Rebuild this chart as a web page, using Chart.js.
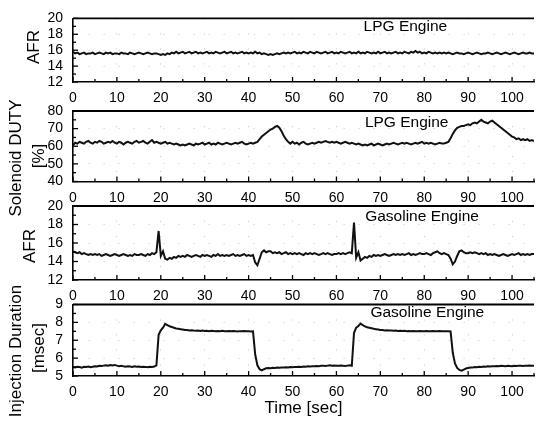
<!DOCTYPE html>
<html><head><meta charset="utf-8">
<script src="https://cdn.jsdelivr.net/npm/chart.js@4"></script>
<style>
html,body{margin:0;padding:0;background:#fff;overflow:hidden;width:539px;height:426px;}
#wrap{position:relative;width:539px;height:426px;overflow:hidden;background:#fff;}
canvas{position:absolute;left:0;top:0;}
.yt{position:absolute;font-family:'Liberation Sans',Arial,sans-serif;font-size:17px;color:#000;white-space:nowrap;transform:translate(-50%,-50%) rotate(-90deg);line-height:1;}
</style></head>
<body><div id="wrap">
<canvas id="c1" width="542" height="426"></canvas>
<canvas id="c2" width="542" height="426"></canvas>
<canvas id="c3" width="542" height="426"></canvas>
<canvas id="c4" width="542" height="426"></canvas>
<div class="yt" style="left:33px;top:47px;">AFR</div>
<div class="yt" style="left:15px;top:158px;">Solenoid DUTY</div>
<div class="yt" style="left:38px;top:156px;">[%]</div>
<div class="yt" style="left:29px;top:246px;">AFR</div>
<div class="yt" style="left:15px;top:351px;">Injection Duration</div>
<div class="yt" style="left:38px;top:348px;">[msec]</div>
</div>
<script>
// ---- data ----
const TIME = [
0,0.5,1,1.5,2,2.5,3,3.5,4,4.5,
5,5.5,6,6.5,7,7.5,8,8.5,9,9.5,
10,10.5,11,11.5,12,12.5,13,13.5,14,14.5,
15,15.5,16,16.5,17,17.5,18,18.5,19,19.5,
20,20.5,21,21.5,22,22.5,23,23.5,24,24.5,
25,25.5,26,26.5,27,27.5,28,28.5,29,29.5,
30,30.5,31,31.5,32,32.5,33,33.5,34,34.5,
35,35.5,36,36.5,37,37.5,38,38.5,39,39.5,
40,40.5,41,41.5,42,42.5,43,43.5,44,44.5,
45,45.5,46,46.5,47,47.5,48,48.5,49,49.5,
50,50.5,51,51.5,52,52.5,53,53.5,54,54.5,
55,55.5,56,56.5,57,57.5,58,58.5,59,59.5,
60,60.5,61,61.5,62,62.5,63,63.5,64,64.5,
65,65.5,66,66.5,67,67.5,68,68.5,69,69.5,
70,70.5,71,71.5,72,72.5,73,73.5,74,74.5,
75,75.5,76,76.5,77,77.5,78,78.5,79,79.5,
80,80.5,81,81.5,82,82.5,83,83.5,84,84.5,
85,85.5,86,86.5,87,87.5,88,88.5,89,89.5,
90,90.5,91,91.5,92,92.5,93,93.5,94,94.5,
95,95.5,96,96.5,97,97.5,98,98.5,99,99.5,
100,100.5,101,101.5,102,102.5,103,103.5,104,104.5,
105];

const lpgAfr = [
15.8,15.6,15.7,15.5,15.6,15.7,15.5,15.6,15.6,15.7,
15.5,15.6,15.7,15.6,15.5,15.7,15.6,15.7,15.5,15.6,
15.6,15.5,15.7,15.6,15.6,15.5,15.7,15.6,15.5,15.6,
15.7,15.6,15.5,15.6,15.7,15.6,15.5,15.6,15.6,15.5,
15.4,15.5,15.4,15.6,15.5,15.7,15.6,15.8,15.6,15.7,
15.8,15.6,15.7,15.8,15.6,15.7,15.8,15.6,15.7,15.6,
15.7,15.8,15.6,15.7,15.6,15.8,15.7,15.6,15.7,15.8,
15.6,15.7,15.8,15.6,15.7,15.6,15.7,15.8,15.6,15.7,
15.6,15.7,15.6,15.8,15.6,15.7,15.5,15.6,15.5,15.4,
15.5,15.4,15.5,15.6,15.5,15.6,15.7,15.6,15.7,15.6,
15.7,15.8,15.6,15.7,15.6,15.8,15.7,15.6,15.8,15.7,
15.6,15.8,15.7,15.6,15.7,15.8,15.6,15.7,15.8,15.6,
15.7,15.6,15.8,15.7,15.6,15.7,15.8,15.6,15.7,15.6,
15.8,15.6,15.7,15.6,15.8,15.7,15.6,15.7,15.6,15.8,
15.6,15.7,15.8,15.6,15.7,15.6,15.7,15.8,15.6,15.7,
15.6,15.8,15.7,15.6,15.8,15.7,15.9,15.7,15.8,15.6,
15.7,15.6,15.8,15.7,15.6,15.7,15.6,15.7,15.6,15.7,
15.6,15.7,15.6,15.5,15.6,15.7,15.6,15.6,15.5,15.6,
15.7,15.6,15.5,15.6,15.7,15.6,15.5,15.6,15.6,15.7,
15.6,15.5,15.6,15.7,15.6,15.5,15.6,15.7,15.6,15.5,
15.6,15.7,15.6,15.5,15.6,15.7,15.6,15.6,15.7,15.6,
15.6];

const lpgDuty = [
60.5,62.0,61.5,62.5,62.0,61.5,62.5,63.0,62.0,61.5,
62.5,62.0,63.0,62.5,61.5,62.0,62.5,62.0,63.0,62.0,
61.5,62.5,62.0,61.0,62.0,62.5,62.0,61.5,62.5,63.0,
62.0,62.5,63.0,62.0,61.5,62.5,63.5,62.0,62.5,62.0,
61.5,62.0,62.5,61.5,62.0,61.5,61.0,61.5,61.0,60.5,
61.0,60.5,61.0,61.5,61.0,60.5,61.5,61.0,61.5,62.0,
61.0,61.5,62.0,61.0,61.5,61.0,62.0,61.5,61.0,61.5,
62.0,61.5,61.0,61.5,62.0,61.5,62.0,62.5,61.5,61.0,
61.5,62.0,61.5,62.0,62.5,64.0,65.5,66.5,67.5,68.5,
69.5,70.0,71.0,71.5,70.5,68.5,66.0,64.0,62.5,61.5,
62.5,61.5,62.0,61.0,62.0,62.5,61.5,61.0,61.5,62.0,
61.5,62.0,62.5,62.0,62.5,63.0,62.5,62.0,62.5,62.0,
62.5,62.0,61.5,62.0,62.5,62.0,61.5,62.0,61.5,61.0,
61.5,61.0,60.5,61.0,60.5,61.0,61.5,60.5,61.0,61.5,
61.0,60.5,61.0,61.5,61.0,61.5,62.0,61.5,61.0,61.5,
62.0,61.5,62.0,61.5,61.0,61.5,62.0,61.5,62.0,62.5,
61.5,62.0,61.5,62.0,61.5,61.0,61.5,62.0,61.5,61.5,
62.0,62.5,64.5,67.0,69.0,70.5,71.0,71.5,71.5,72.0,
72.5,72.0,73.0,73.5,73.0,74.0,75.0,74.0,73.5,73.0,
74.0,74.5,73.5,72.5,71.5,70.5,69.5,68.5,67.5,66.5,
65.5,65.0,64.0,64.5,63.5,64.0,63.5,64.0,63.0,63.5,
63.0];

const gasAfr = [
15.1,15.0,14.9,15.0,14.8,14.9,14.8,14.7,14.8,14.7,
14.8,14.7,14.8,14.6,14.7,14.8,14.7,14.6,14.7,14.8,
14.7,14.6,14.7,14.8,14.7,14.6,14.7,14.6,14.8,14.7,
14.7,14.8,14.7,14.6,14.8,14.7,14.9,14.8,15.0,17.3,
14.6,15.1,14.3,14.2,14.4,14.3,14.5,14.4,14.6,14.5,
14.6,14.5,14.7,14.6,14.5,14.6,14.7,14.6,14.5,14.7,
14.6,14.7,14.6,14.5,14.7,14.6,14.8,14.6,14.7,14.6,
14.7,14.6,14.7,14.8,14.6,14.7,14.6,14.7,14.8,14.6,
14.7,14.6,14.7,13.9,13.6,14.3,15.0,15.2,15.0,15.1,
15.1,14.9,15.0,14.9,15.0,14.8,14.9,15.0,14.8,14.9,
14.8,14.9,14.8,14.9,14.8,14.7,14.9,14.8,14.9,14.8,
14.9,14.8,14.7,14.8,14.9,14.8,14.9,14.8,14.7,14.8,
14.8,14.9,14.8,14.9,14.8,14.9,15.0,14.9,18.2,14.4,
15.0,14.1,14.3,14.5,14.4,14.6,14.5,14.7,14.6,14.7,
14.6,14.7,14.8,14.7,14.6,14.7,14.8,14.7,14.8,14.7,
14.8,14.7,14.8,14.9,14.7,14.8,14.7,14.8,14.9,14.8,
14.8,14.9,14.8,14.7,14.9,15.0,15.1,14.9,14.8,14.9,
14.8,14.7,14.3,13.7,14.0,14.6,15.1,15.2,15.0,14.9,
14.9,15.0,14.9,15.0,14.9,14.8,14.9,14.8,14.9,14.7,
14.8,14.7,14.8,14.7,14.6,14.7,14.8,14.7,14.6,14.7,
14.8,14.7,14.8,14.9,14.7,14.8,14.7,14.8,14.7,14.8,
14.8];

const gasInj = [
5.50,5.48,5.52,5.50,5.47,5.51,5.50,5.53,5.49,5.52,
5.55,5.53,5.57,5.56,5.58,5.60,5.57,5.61,5.59,5.62,
5.58,5.55,5.57,5.54,5.52,5.55,5.53,5.51,5.54,5.52,
5.53,5.50,5.52,5.51,5.49,5.52,5.50,5.53,5.60,7.30,
7.55,7.70,7.92,7.85,7.78,7.74,7.70,7.66,7.64,7.62,
7.60,7.58,7.57,7.55,7.56,7.54,7.53,7.55,7.52,7.54,
7.52,7.53,7.51,7.53,7.52,7.50,7.52,7.51,7.53,7.50,
7.51,7.52,7.50,7.52,7.51,7.49,7.51,7.50,7.52,7.50,
7.51,7.49,7.50,6.20,5.60,5.38,5.32,5.38,5.43,5.45,
5.44,5.46,5.45,5.47,5.46,5.48,5.47,5.49,5.48,5.50,
5.49,5.51,5.50,5.52,5.51,5.53,5.52,5.54,5.53,5.55,
5.54,5.56,5.55,5.57,5.58,5.56,5.58,5.60,5.57,5.59,
5.58,5.57,5.59,5.58,5.56,5.58,5.60,5.57,7.40,7.70,
7.80,7.93,7.85,7.78,7.73,7.70,7.67,7.64,7.62,7.60,
7.58,7.57,7.55,7.56,7.54,7.55,7.53,7.54,7.52,7.53,
7.52,7.53,7.51,7.52,7.50,7.52,7.51,7.50,7.52,7.51,
7.50,7.52,7.51,7.50,7.52,7.51,7.50,7.52,7.51,7.50,
7.51,7.50,7.49,6.30,5.70,5.45,5.34,5.30,5.36,5.42,
5.45,5.48,5.47,5.50,5.49,5.52,5.51,5.53,5.52,5.54,
5.53,5.55,5.54,5.56,5.55,5.57,5.56,5.55,5.57,5.56,
5.55,5.57,5.56,5.58,5.57,5.56,5.58,5.57,5.59,5.58,
5.57];

// tick labels
const X_TICKS = [0,10,20,30,40,50,60,70,80,90,100];
const AFR_TICKS = [12,14,16,18,20];
const DUTY_TICKS = [40,50,60,70,80];
const INJ_TICKS = [5,6,7,8,9];

// ---- rendering ----
const FONT = "'Liberation Sans', Arial, sans-serif";

const framePlugin = {
  id: 'frame',
  afterDatasetsDraw(chart) {
    const {ctx, chartArea: a, scales} = chart;
    const xs = scales.x, ys = scales.y;
    const majors = chart.options.plugins.frame.yMajor;
    ctx.save();
    ctx.strokeStyle = '#000';
    ctx.lineWidth = 1.8;
    ctx.beginPath(); ctx.moveTo(a.left, a.top); ctx.lineTo(a.right, a.top); ctx.stroke();
    ctx.lineWidth = 1.3;
    xs.ticks.forEach(t => {
      const px = xs.getPixelForValue(t.value);
      const L = X_TICKS.includes(t.value) ? 5 : 3;
      ctx.beginPath(); ctx.moveTo(px, a.bottom); ctx.lineTo(px, a.bottom - L); ctx.stroke();
    });
    ys.ticks.forEach(t => {
      const py = ys.getPixelForValue(t.value);
      const L = majors.includes(t.value) ? 5 : 3;
      ctx.beginPath(); ctx.moveTo(a.left, py); ctx.lineTo(a.left + L, py); ctx.stroke();
    });
    // panel caption
    const cap = chart.options.plugins.frame.caption;
    ctx.fillStyle = '#000';
    ctx.font = '15.5px ' + FONT;
    ctx.textAlign = 'center';
    ctx.textBaseline = 'middle';
    ctx.fillText(cap.text, xs.getPixelForValue(cap.x), ys.getPixelForValue(cap.y));
    ctx.restore();
  }
};

function panel(id, series, yMin, yMax, yStep, yMajor, padTop, padBottom, xH, caption, xTitle) {
  new Chart(document.getElementById(id), {
    type: 'line',
    data: {
      labels: TIME,
      datasets: [{
        data: series,
        borderColor: '#111',
        borderWidth: 2,
        pointRadius: 0,
        tension: 0,
        fill: false
      }]
    },
    options: {
      responsive: false,
      animation: false,
      events: [],
      layout: { padding: { left: 0, right: 0, top: padTop, bottom: padBottom } },
      plugins: {
        legend: { display: false },
        tooltip: { enabled: false },
        frame: { yMajor: yMajor, caption: caption }
      },
      scales: {
        x: {
          type: 'linear',
          min: 0, max: 105,
          afterFit(s) { s.height = xH; },
          ticks: {
            stepSize: 5,
            autoSkip: false,
            maxRotation: 0,
            padding: 8,
            color: '#000',
            font: { family: FONT, size: 14 },
            callback: v => X_TICKS.includes(v) ? String(v) : ''
          },
          grid: {
            drawTicks: false,
            color: c => (c.tick && X_TICKS.includes(c.tick.value) && c.tick.value > 0) ? 'rgba(0,0,0,0.22)' : 'rgba(0,0,0,0)',
            lineWidth: 1
          },
          border: { display: true, color: '#000', width: 1.6, dash: [1, 14] },
          title: xTitle ? { display: true, text: xTitle, color: '#000', font: { family: FONT, size: 17 }, padding: { top: 0, bottom: 0 } } : { display: false }
        },
        y: {
          min: yMin, max: yMax,
          afterFit(s) { s.width = 73; },
          ticks: {
            stepSize: yStep,
            autoSkip: false,
            padding: 10,
            color: '#000',
            font: { family: FONT, size: 14 },
            callback: v => yMajor.includes(v) ? String(v) : ''
          },
          grid: {
            drawTicks: false,
            color: c => (c.tick && yMajor.includes(c.tick.value) && c.tick.value > yMin && c.tick.value < yMax) ? 'rgba(0,0,0,0.22)' : 'rgba(0,0,0,0)',
            lineWidth: 1
          },
          border: { display: true, color: '#000', width: 1.6, dash: [1, 14] }
        }
      }
    },
    plugins: [framePlugin]
  });
}

panel('c1', lpgAfr, 12, 20, 1, AFR_TICKS, 13.5, 426 - 82 - 24, 24, { text: 'LPG Engine', x: 75.7, y: 18.9 }, null);
panel('c2', lpgDuty, 40, 80, 5, DUTY_TICKS, 111, 426 - 181.5 - 24, 24, { text: 'LPG Engine', x: 76, y: 73.4 }, null);
panel('c3', gasAfr, 12, 20, 1, AFR_TICKS, 206, 426 - 280 - 24, 24, { text: 'Gasoline Engine', x: 79.5, y: 18.85 }, null);
panel('c4', gasInj, 5, 9, 0.5, INJ_TICKS, 304.5, 426 - 376 - 43, 43, { text: 'Gasoline Engine', x: 80.7, y: 8.53 }, 'Time [sec]');
</script>
</body></html>
